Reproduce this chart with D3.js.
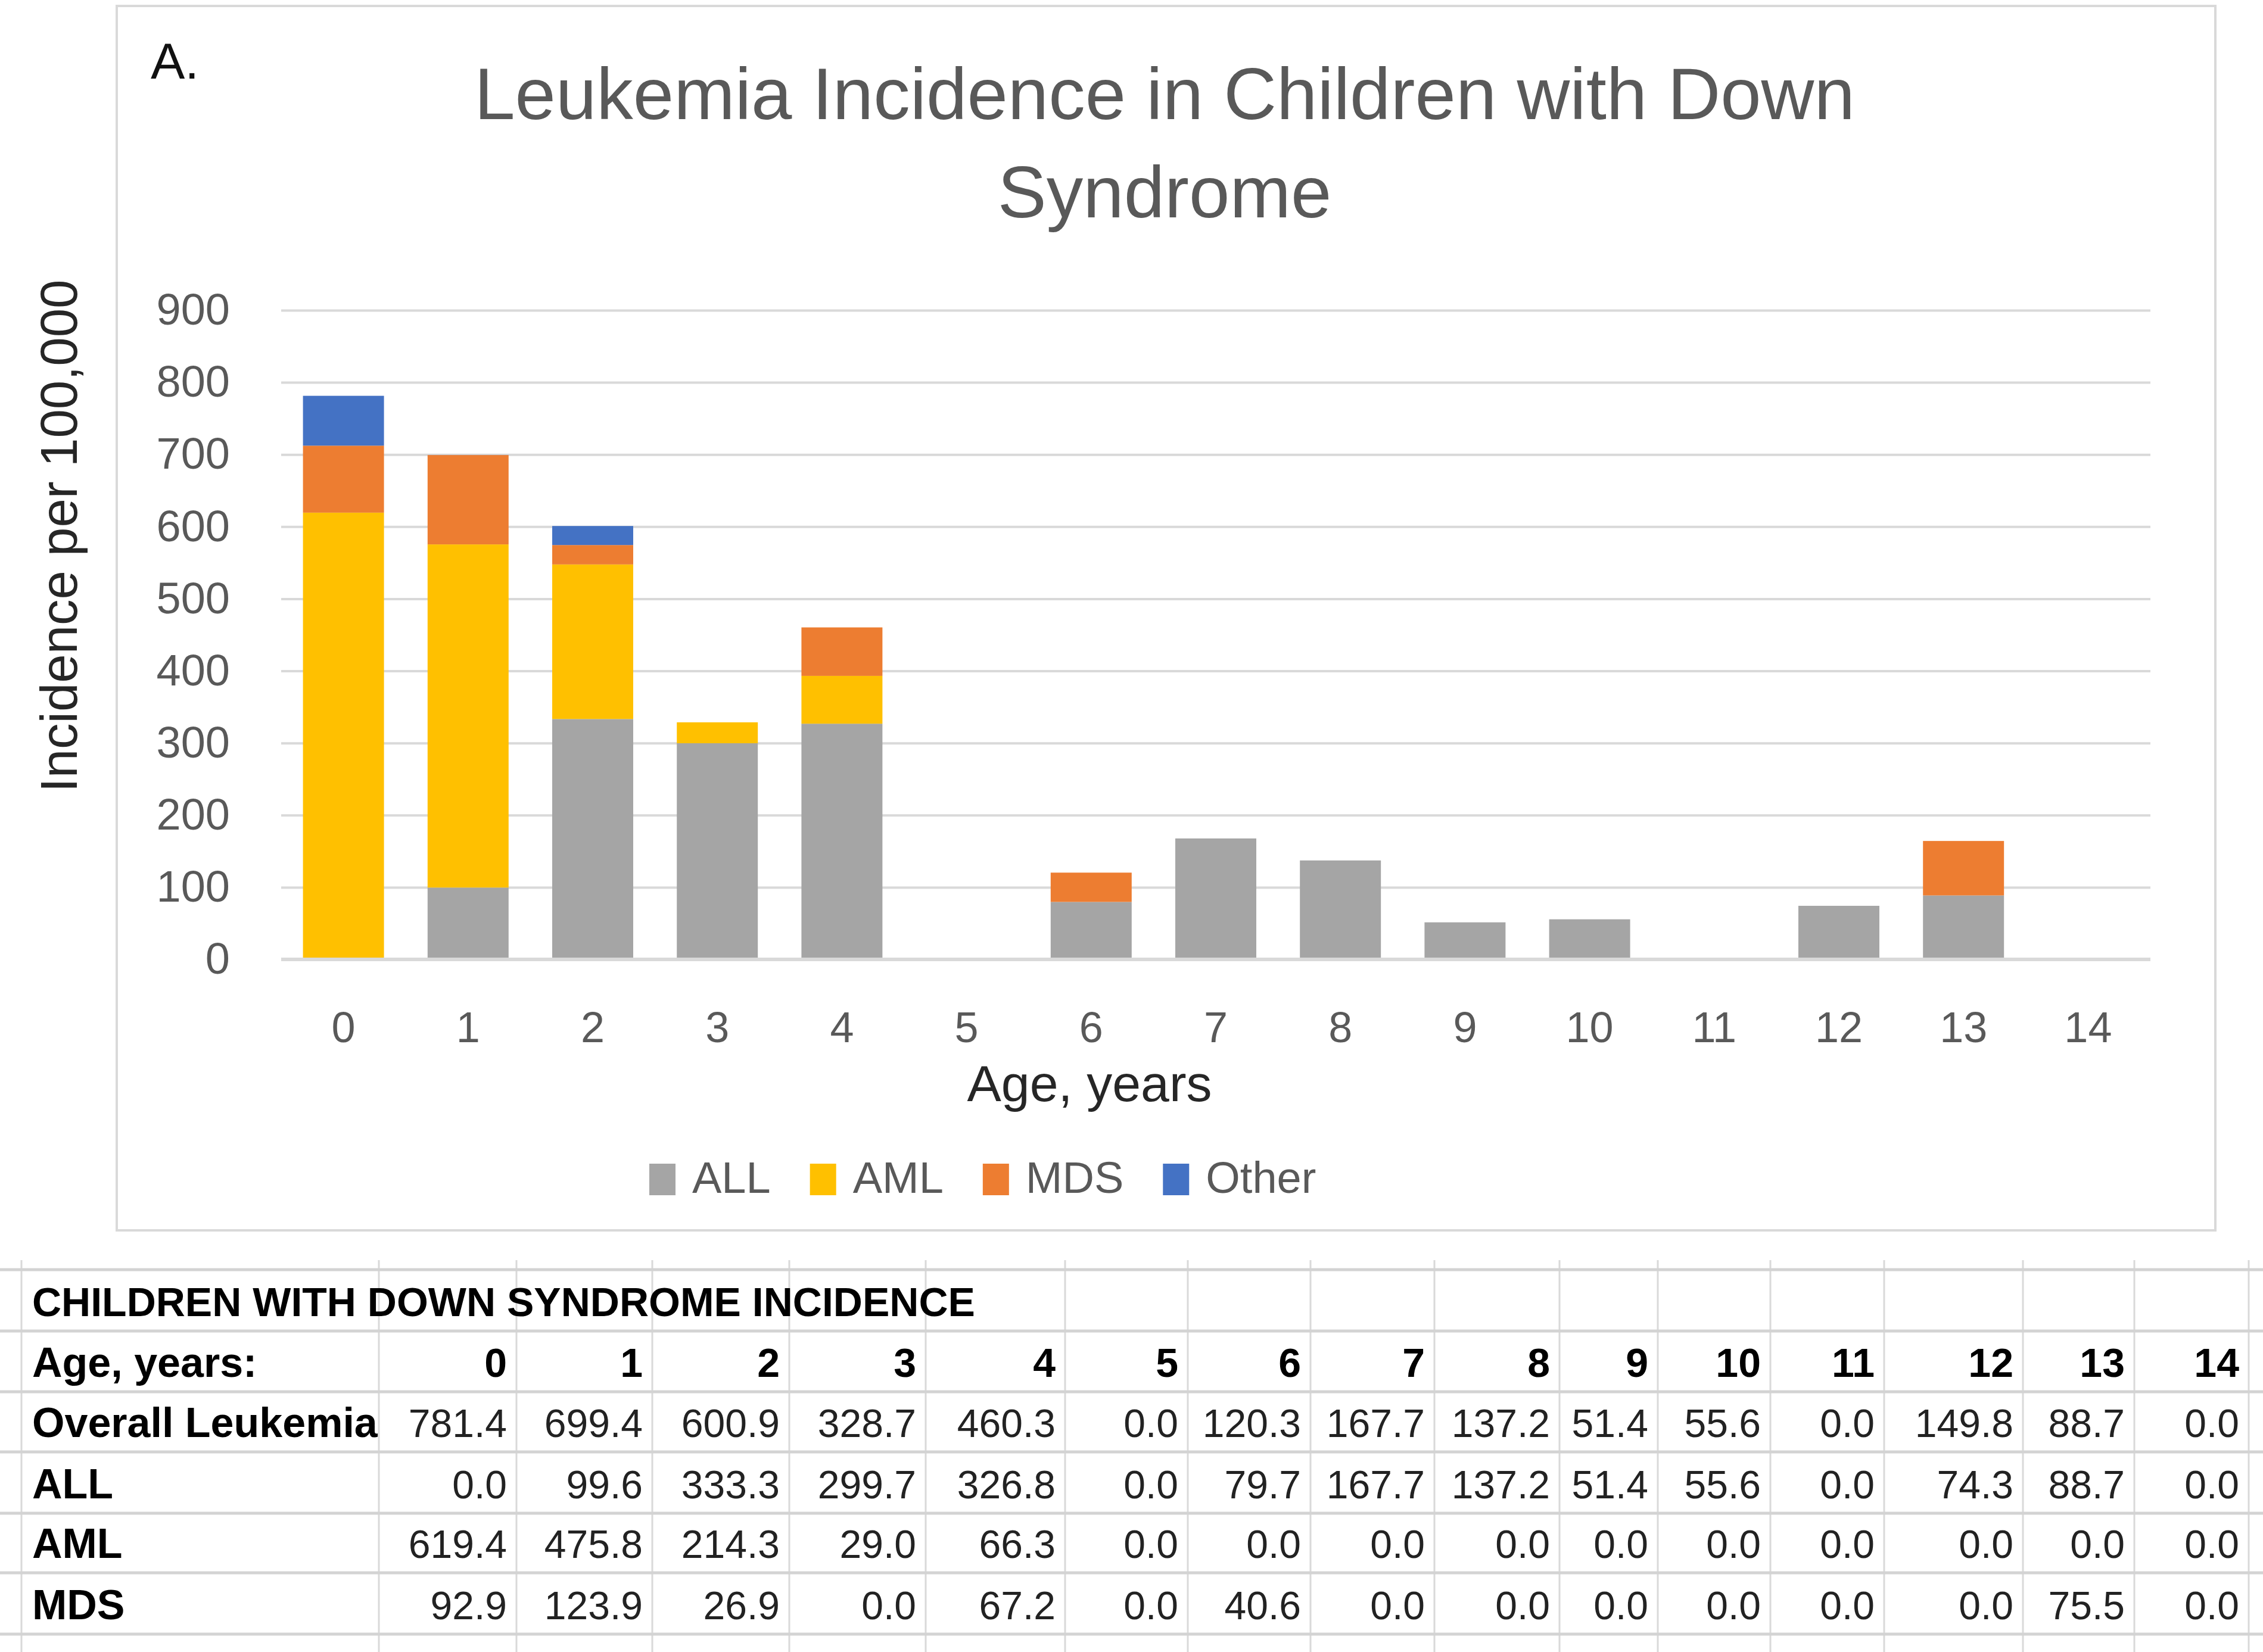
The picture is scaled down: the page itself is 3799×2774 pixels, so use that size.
<!DOCTYPE html>
<html>
<head>
<meta charset="utf-8">
<script src="https://cdn.jsdelivr.net/npm/d3@7"></script>
<style>
  html, body { margin: 0; padding: 0; background: #ffffff; }
  svg { display: block; font-family: "Liberation Sans", Arial, sans-serif; }
</style>
</head>
<body>
<svg id="chart" width="3799" height="2774"></svg>
<script>
// ---------------- DATA ----------------
const ages = ["0","1","2","3","4","5","6","7","8","9","10","11","12","13","14"];
const seriesNames = ["ALL", "AML", "MDS", "Other"];
// values drawn in the stacked chart
const allVals   = [0.0, 99.6, 333.3, 299.7, 326.8, 0.0, 79.7, 167.7, 137.2, 51.4, 55.6, 0.0, 74.3, 88.7, 0.0];
const amlVals   = [619.4, 475.8, 214.3, 29.0, 66.3, 0.0, 0.0, 0.0, 0.0, 0.0, 0.0, 0.0, 0.0, 0.0, 0.0];
const mdsVals   = [92.9, 123.9, 26.9, 0.0, 67.2, 0.0, 40.6, 0.0, 0.0, 0.0, 0.0, 0.0, 0.0, 75.5, 0.0];
const otherVals = [69.1, 0.1, 26.4, 0.0, 0.0, 0.0, 0.0, 0.0, 0.0, 0.0, 0.0, 0.0, 0.0, 0.0, 0.0];
// table rows
const overallVals = [781.4, 699.4, 600.9, 328.7, 460.3, 0.0, 120.3, 167.7, 137.2, 51.4, 55.6, 0.0, 149.8, 88.7, 0.0];
const yTicks = [0, 100, 200, 300, 400, 500, 600, 700, 800, 900];
const chartTitle = ["Leukemia Incidence in Children with Down", "Syndrome"];
const tableTitle = "CHILDREN WITH DOWN SYNDROME INCIDENCE";
const tableRows = [
  { label: "Overall Leukemia", values: overallVals },
  { label: "ALL", values: allVals },
  { label: "AML", values: amlVals },
  { label: "MDS", values: mdsVals }
];

// ---------------- LAYOUT ----------------
const colors = { ALL: "#A5A5A5", AML: "#FFC000", MDS: "#ED7D31", Other: "#4472C4" };
const plot = { left: 472, right: 3610, top: 521, bottom: 1611 };
const colEdges = [36, 636, 867, 1095, 1325, 1554, 1788, 1994, 2200, 2408, 2618, 2783, 2972, 3163, 3396, 3583, 3775];
const rowLines = [2132, 2235, 2337, 2438, 2541, 2641, 2744];

const svg = d3.select("#chart");
svg.append("rect").attr("width", 3799).attr("height", 2774).attr("fill", "#fff");

// chart frame
svg.append("rect")
  .attr("x", 196).attr("y", 10).attr("width", 3523).attr("height", 2056)
  .attr("fill", "#fff").attr("stroke", "#d9d9d9").attr("stroke-width", 4);

// panel letter
svg.append("text").attr("x", 253).attr("y", 132)
  .attr("font-size", 86).attr("fill", "#111").text("A.");

// title
svg.append("g").selectAll("text").data(chartTitle).join("text")
  .attr("x", 1955).attr("y", (d, i) => i === 0 ? 200 : 365)
  .attr("text-anchor", "middle").attr("font-size", 123).attr("fill", "#595959")
  .text(d => d);

// scales
const x = d3.scaleBand().domain(ages).range([plot.left, plot.right])
  .paddingInner(0.35).paddingOuter(0.175);
const y = d3.scaleLinear().domain([0, 900]).range([plot.bottom, plot.top]);

// y axis with gridlines
const yAxis = d3.axisLeft(y).tickValues(yTicks)
  .tickSize(-(plot.right - plot.left)).tickPadding(86).tickFormat(d3.format("d"));
const gy = svg.append("g").attr("transform", `translate(${plot.left},0)`).call(yAxis);
gy.select(".domain").remove();
gy.selectAll(".tick line").attr("stroke", "#d9d9d9").attr("stroke-width", 4);
gy.selectAll(".tick text").attr("font-size", 74).attr("fill", "#595959")
  .attr("font-family", "Liberation Sans, Arial, sans-serif");

// stacked bars
const rows = ages.map((a, i) => ({ age: a, ALL: allVals[i], AML: amlVals[i], MDS: mdsVals[i], Other: otherVals[i] }));
const stacked = d3.stack().keys(seriesNames)(rows);
svg.append("g").selectAll("g").data(stacked).join("g")
  .attr("fill", d => colors[d.key])
  .selectAll("rect").data(d => d).join("rect")
  .attr("x", d => x(d.data.age))
  .attr("width", x.bandwidth())
  .attr("y", d => y(d[1]))
  .attr("height", d => Math.max(0, y(d[0]) - y(d[1])));

// zero baseline
svg.append("line").attr("x1", plot.left).attr("x2", plot.right)
  .attr("y1", y(0)).attr("y2", y(0)).attr("stroke", "#d9d9d9").attr("stroke-width", 6);

// x axis
const gx = svg.append("g").attr("transform", `translate(0,${plot.bottom})`)
  .call(d3.axisBottom(x).tickSize(0).tickPadding(88));
gx.select(".domain").remove();
gx.selectAll(".tick text").attr("font-size", 72).attr("fill", "#595959")
  .attr("font-family", "Liberation Sans, Arial, sans-serif");

// axis titles
svg.append("text").attr("transform", "translate(129,900) rotate(-90)")
  .attr("text-anchor", "middle").attr("font-size", 87).attr("fill", "#262626")
  .text("Incidence per 100,000");
svg.append("text").attr("x", 1829).attr("y", 1849)
  .attr("text-anchor", "middle").attr("font-size", 86).attr("fill", "#262626")
  .text("Age, years");

// legend
const lg = svg.append("g");
let lx = 1090;
seriesNames.forEach(name => {
  lg.append("rect").attr("x", lx).attr("y", 1954).attr("width", 44).attr("height", 53)
    .attr("fill", colors[name]);
  const t = lg.append("text").attr("x", lx + 72).attr("y", 2003)
    .attr("font-size", 74).attr("fill", "#595959").text(name);
  lx = lx + 72 + t.node().getComputedTextLength() + 66;
});

// ---------------- TABLE ----------------
const tg = svg.append("g");
// vertical lines
tg.selectAll("line.v").data(colEdges).join("line")
  .attr("x1", d => d).attr("x2", d => d).attr("y1", 2116).attr("y2", 2774)
  .attr("stroke", "#d9d9d9").attr("stroke-width", 3);
// horizontal lines
tg.selectAll("line.h").data(rowLines).join("line")
  .attr("x1", 0).attr("x2", 3799).attr("y1", d => d).attr("y2", d => d)
  .attr("stroke", "#d3d3d3").attr("stroke-width", 5);

const cellRight = i => colEdges[i + 2] - 16;
const baseline = r => rowLines[r + 1] - 25;

// title row
tg.append("text").attr("x", 54).attr("y", baseline(0))
  .attr("font-size", 68).attr("font-weight", "bold").attr("fill", "#000")
  .text(tableTitle);
// header row
tg.append("text").attr("x", 54).attr("y", baseline(1))
  .attr("font-size", 70).attr("font-weight", "bold").attr("fill", "#000")
  .text("Age, years:");
tg.append("g").selectAll("text").data(ages).join("text")
  .attr("x", (d, i) => cellRight(i)).attr("y", baseline(1))
  .attr("text-anchor", "end").attr("font-size", 68).attr("font-weight", "bold").attr("fill", "#000")
  .text(d => d);
// data rows
tableRows.forEach((row, r) => {
  tg.append("text").attr("x", 54).attr("y", baseline(r + 2))
    .attr("font-size", 70).attr("font-weight", "bold").attr("fill", "#000")
    .text(row.label);
  tg.append("g").selectAll("text").data(row.values).join("text")
    .attr("x", (d, i) => cellRight(i)).attr("y", baseline(r + 2))
    .attr("text-anchor", "end").attr("font-size", 66).attr("fill", "#222")
    .text(d => d3.format(".1f")(d));
});
</script>
</body>
</html>
